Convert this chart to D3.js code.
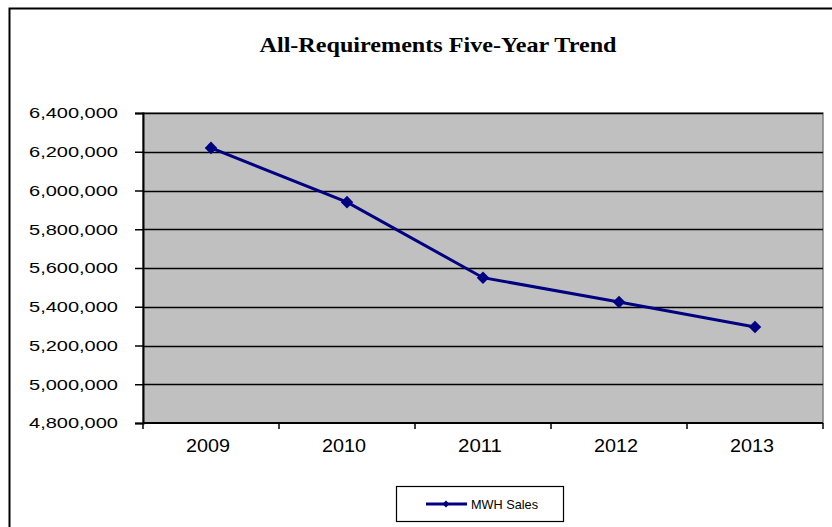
<!DOCTYPE html>
<html>
<head>
<meta charset="utf-8">
<script src="https://cdn.jsdelivr.net/npm/d3@7"></script>
<style>
  body { margin: 0; background: #fff; }
  svg { display: block; }
</style>
</head>
<body>
<div id="chart"></div>
<script>
// chart data
const years = ['2009', '2010', '2011', '2012', '2013'];
const mwhSales = [6220000, 5940000, 5550000, 5425000, 5295000];
const yTicks = [4800000, 5000000, 5200000, 5400000, 5600000, 5800000, 6000000, 6200000, 6400000];

const width = 832, height = 527;
const plot = { left: 143, right: 823, top: 113, bottom: 423 };
const sansFont = '"Liberation Sans", Arial, sans-serif';

const svg = d3.select('#chart').append('svg')
    .attr('width', width)
    .attr('height', height);

// outer chart border (runs off the right and bottom)
svg.append('path')
    .attr('d', `M9.5,${height + 2}V8.5H${width + 2}`)
    .attr('fill', 'none')
    .attr('stroke', '#000')
    .attr('stroke-width', 2);

svg.append('text')
    .attr('x', 438)
    .attr('y', 52)
    .attr('text-anchor', 'middle')
    .attr('font-family', '"Liberation Serif", "Times New Roman", serif')
    .attr('font-weight', 'bold')
    .attr('font-size', 21)
    .attr('textLength', 357)
    .attr('lengthAdjust', 'spacingAndGlyphs')
    .text('All-Requirements Five-Year Trend');

const x = d3.scaleBand()
    .domain(years)
    .range([plot.left, plot.right]);

const y = d3.scaleLinear()
    .domain([4800000, 6400000])
    .range([plot.bottom, plot.top]);

// plot background
svg.append('rect')
    .attr('x', plot.left)
    .attr('y', plot.top)
    .attr('width', plot.right - plot.left)
    .attr('height', plot.bottom - plot.top)
    .attr('fill', '#c0c0c0')
    .attr('stroke', '#808080')
    .attr('stroke-width', 1.5);

// gridlines
svg.append('g')
    .selectAll('line')
    .data(yTicks.slice(1))
    .enter()
    .append('line')
    .attr('x1', plot.left)
    .attr('x2', plot.right)
    .attr('y1', d => Math.round(y(d)) + 0.5)
    .attr('y2', d => Math.round(y(d)) + 0.5)
    .attr('stroke', '#000')
    .attr('stroke-width', 1.5);

// y axis
const yAxis = svg.append('g')
    .attr('transform', `translate(${plot.left},0)`)
    .call(d3.axisLeft(y)
        .tickValues(yTicks)
        .tickSize(8)
        .tickPadding(17)
        .tickFormat(d3.format(',')));

yAxis.selectAll('text')
    .attr('font-size', 15)
    .attr('textLength', 89)
    .attr('lengthAdjust', 'spacingAndGlyphs');

// x axis
const xAxis = svg.append('g')
    .attr('transform', `translate(0,${plot.bottom})`)
    .call(d3.axisBottom(x)
        .tickSize(0)
        .tickPadding(16));

xAxis.selectAll('text')
    .attr('font-size', 18)
    .attr('textLength', 44)
    .attr('lengthAdjust', 'spacingAndGlyphs')
    .attr('dx', -3);

// category boundary ticks
svg.append('g')
    .selectAll('line')
    .data(years.concat(['end']))
    .enter()
    .append('line')
    .attr('x1', (d, i) => plot.left + i * x.step())
    .attr('x2', (d, i) => plot.left + i * x.step())
    .attr('y1', plot.bottom)
    .attr('y2', plot.bottom + 6)
    .attr('stroke', '#000')
    .attr('stroke-width', 1.5);

[yAxis, xAxis].forEach(g => {
    g.select('.domain').attr('stroke', '#000').attr('stroke-width', 2);
    g.selectAll('.tick line').attr('stroke', '#000').attr('stroke-width', 1.5);
    g.selectAll('text')
        .attr('font-family', sansFont)
        .attr('fill', '#000');
});
xAxis.select('.domain').attr('d', `M${plot.left},0H${plot.right}`);

// series line
const line = d3.line()
    .x((d, i) => x(years[i]) + x.bandwidth() / 2)
    .y(d => y(d));

svg.append('path')
    .datum(mwhSales)
    .attr('d', line)
    .attr('fill', 'none')
    .attr('stroke', '#000080')
    .attr('stroke-width', 3);

const diamond = d3.symbol().type(d3.symbolDiamond2).size(100);

svg.append('g')
    .selectAll('path')
    .data(mwhSales)
    .enter()
    .append('path')
    .attr('d', diamond)
    .attr('transform', (d, i) => `translate(${x(years[i]) + x.bandwidth() / 2},${y(d)})`)
    .attr('fill', '#000080');

// legend
const legend = svg.append('g').attr('transform', 'translate(396,486)');
legend.append('rect')
    .attr('x', 0.5)
    .attr('y', 0.5)
    .attr('width', 167)
    .attr('height', 35)
    .attr('fill', '#fff')
    .attr('stroke', '#000')
    .attr('stroke-width', 1.2);
legend.append('line')
    .attr('x1', 30).attr('x2', 71)
    .attr('y1', 18).attr('y2', 18)
    .attr('stroke', '#000080')
    .attr('stroke-width', 3);
legend.append('path')
    .attr('d', d3.symbol().type(d3.symbolDiamond2).size(30))
    .attr('transform', 'translate(50,18)')
    .attr('fill', '#000080');
legend.append('text')
    .attr('x', 75)
    .attr('y', 23)
    .attr('font-family', sansFont)
    .attr('font-size', 13)
    .attr('textLength', 67)
    .attr('lengthAdjust', 'spacingAndGlyphs')
    .text('MWH Sales');
</script>
</body>
</html>
